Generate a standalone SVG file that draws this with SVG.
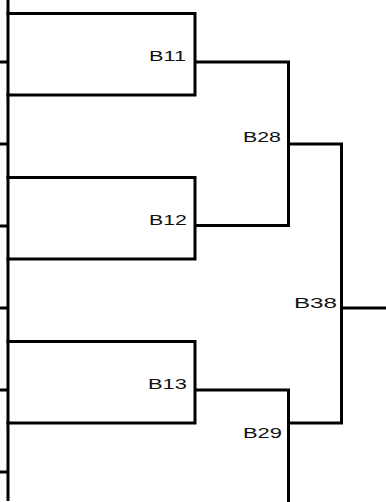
<svg xmlns="http://www.w3.org/2000/svg" width="386" height="502" viewBox="0 0 386 502">
<style>
.ln{fill:none;stroke:#000;stroke-width:3;stroke-linecap:butt;stroke-linejoin:miter}
.lb{font-family:"Liberation Sans",Arial,sans-serif;font-size:15px;fill:#111;text-anchor:start}
</style>
<rect width="386" height="502" fill="#fff"/>
<g id="connectors" class="ln">
<path d="M8 0V501"/>
<path d="M0 62H8M0 144H8M0 226H8M0 308H8M0 390H8M0 472H8"/>
<path d="M195 62H288.5V225.5H195"/>
<path d="M288.5 144H341.5V423H288.5"/>
<path d="M195 390H288.5V502"/>
<path d="M341.5 308H386"/>
</g>
<g id="B11">
<path class="ln" d="M6.5 13.5H195V95H6.5"/>
<text class="lb" x="149" y="61" textLength="37" lengthAdjust="spacingAndGlyphs">B11</text>
</g>
<g id="B12">
<path class="ln" d="M6.5 177.5H195V259H6.5"/>
<text class="lb" x="149" y="225" textLength="38" lengthAdjust="spacingAndGlyphs">B12</text>
</g>
<g id="B13">
<path class="ln" d="M6.5 341.5H195V423H6.5"/>
<text class="lb" x="148" y="389" textLength="39" lengthAdjust="spacingAndGlyphs">B13</text>
</g>
<g id="B28">
<text class="lb" x="243" y="142" textLength="38" lengthAdjust="spacingAndGlyphs">B28</text>
</g>
<g id="B29">
<text class="lb" x="243" y="438" textLength="39" lengthAdjust="spacingAndGlyphs">B29</text>
</g>
<g id="B38">
<text class="lb" x="294" y="307.5" textLength="43" lengthAdjust="spacingAndGlyphs">B38</text>
</g>
</svg>
